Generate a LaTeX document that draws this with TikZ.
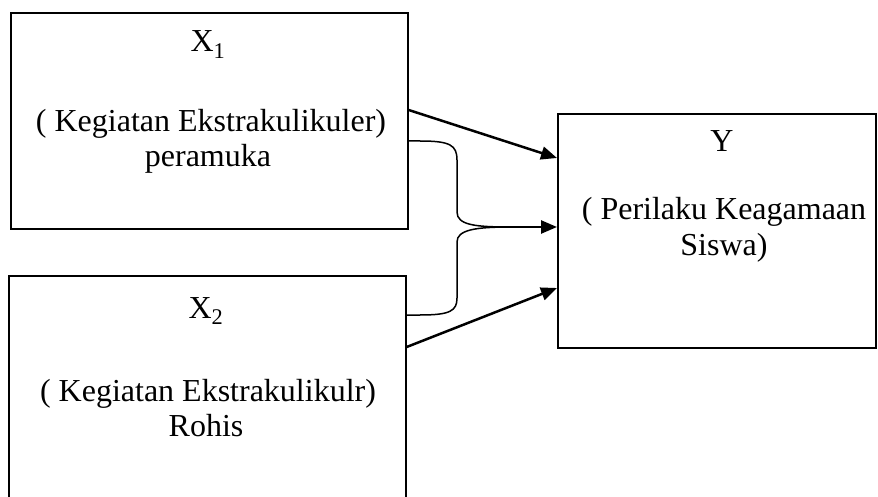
\documentclass[tikz,border=0pt]{standalone}
\usepackage{fontspec}
\setmainfont{Liberation Serif}
\usetikzlibrary{arrows.meta,calc}
\tikzset{
  boxstyle/.style={draw, line width=1.7pt, rectangle, inner sep=0pt, anchor=north west},
  txt/.style={anchor=base, inner sep=0pt, font=\fontsize{32}{35}\selectfont},
  arrowline/.style={line width=2.5pt, -{Triangle[length=16pt,width=13pt]}},
  curveline/.style={line width=1.5pt},
}
\begin{document}
\begin{tikzpicture}[x=1pt,y=-1pt]
\useasboundingbox (0,0) rectangle (878,497);
\clip (0,0) rectangle (878,497);
\fill[white] (0,0) rectangle (878,497);
% boxes
\node[boxstyle, minimum width=397pt, minimum height=216pt] (x1) at (10,12) {};
\node[boxstyle, minimum width=397pt, minimum height=250pt] (x2) at (8,275) {};
\node[boxstyle, minimum width=318pt, minimum height=234pt] (y) at (557,113) {};
% texts
\node[txt] (t1a) at (208,52) {X\textsubscript{1}};
\node[txt] (t1b) at (211,132) {( Kegiatan Ekstrakulikuler)};
\node[txt] (t1c) at (208,167) {peramuka};
\node[txt] (t2a) at (206,318) {X\textsubscript{2}};
\node[txt] (t2b) at (208,401) {( Kegiatan Ekstrakulikulr)};
\node[txt] (t2c) at (206,436) {Rohis};
\node[txt] (tya) at (722,152) {Y};
\node[txt] (tyb) at (724,220) {( Perilaku Keagamaan};
\node[txt] (tyc) at (724,255) {Siswa)};
% connector points
\coordinate (s1) at ([yshift=-98pt]x1.north east);
\coordinate (c1) at ([yshift=-129pt]x1.north east);
\coordinate (c2) at ([yshift=-40pt]x2.north east);
\coordinate (s3) at ([yshift=-72pt]x2.north east);
\coordinate (e1) at ([yshift=-45pt]y.north west);
\coordinate (e2) at ([yshift=-114pt]y.north west);
\coordinate (e3) at ([yshift=-175pt]y.north west);
\coordinate (m) at ($(e2)+(-47,0)$);
% connectors
\draw[arrowline] (s1) -- (e1);
\draw[arrowline] (s3) -- (e3);
\draw[curveline] (c1) -- (420,141) .. controls (450,141) and (457,145) .. (457,160) -- (457,212) .. controls (457,225) and (475,227) .. (m);
\draw[curveline] (c2) -- (420,315) .. controls (450,315) and (457,311) .. (457,298) -- (457,242) .. controls (457,230) and (475,227) .. (m);
\draw[arrowline] (m) -- (e2);
\end{tikzpicture}
\end{document}
